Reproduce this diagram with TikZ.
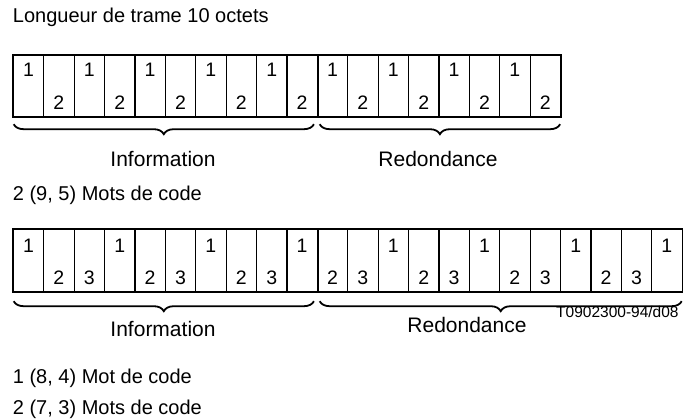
\documentclass[tikz,border=0pt]{standalone}
\usepackage{fontspec}
\setmainfont{Liberation Sans}
\usetikzlibrary{decorations.pathreplacing,calc}
\begin{document}
\begin{tikzpicture}[x=1pt,y=-1pt,
  cellbox/.style={draw, line width=1.2pt, minimum width=30.4pt, minimum height=#1, inner sep=0pt, anchor=north west},
  digit/.style={font=\fontsize{19.5}{20}\selectfont, inner sep=0pt, anchor=base},
  txt/.style={font=\fontsize{20}{24}\selectfont, inner sep=0pt, anchor=base west},
  part/.style={font=\fontsize{21}{24}\selectfont, inner sep=0pt, anchor=base},
  refcode/.style={font=\fontsize{15.5}{18}\selectfont, inner sep=0pt, anchor=base west},
  brc/.style={decorate, decoration={brace, mirror, amplitude=10pt}, line width=1.8pt},
  frame/.style={draw, line width=1.8pt},
  split/.style={line width=2.4pt}]
\useasboundingbox (0,0) rectangle (683,420);

\node[txt] (title) at (12.7,23) {Longueur de trame 10 octets};

% Row 1
\foreach \i in {0,...,17}{
  \node[cellbox=61pt] (a\i) at ({12.7+30.4*\i},55) {};
}
\foreach \i in {0,2,...,16}{
  \node[digit] (ad\i) at ($(a\i.north)+(0,22)$) {1};
}
\foreach \i in {1,3,...,17}{
  \node[digit] (ad\i) at ($(a\i.south)+(0,-8)$) {2};
}
\draw[frame] (a0.north west) rectangle (a17.south east);
\draw[split] (a9.north east) -- (a9.south east);

\draw[brc] ($(a0.south west)+(1,7)$) -- ($(a9.south east)+(-4,7)$) coordinate[midway] (b1);
\draw[brc] ($(a10.south west)+(3,7)$) -- ($(a17.south east)+(-1,7)$) coordinate[midway] (b2);
\node[part] (info1) at (163,166) {Information};
\node[part] (red1) at (438,166) {Redondance};

\node[txt] (mots1) at (12.7,200) {2 (9, 5) Mots de code};

% Row 2
\foreach \i in {0,...,21}{
  \node[cellbox=62pt] (c\i) at ({12.7+30.4*\i},229) {};
}
\foreach \i/\d in {0/1,1/2,2/3,3/1,4/2,5/3,6/1,7/2,8/3,9/1,10/2,11/3,12/1,13/2,14/3,15/1,16/2,17/3,18/1,19/2,20/3,21/1}{
  \ifnum\d=1
    \node[digit] (cd\i) at ($(c\i.north)+(0,23)$) {1};
  \else
    \node[digit] (cd\i) at ($(c\i.south)+(0,-8)$) {\d};
  \fi
}
\draw[frame] (c0.north west) rectangle (c21.south east);
\draw[split] (c9.north east) -- (c9.south east);

\draw[brc] ($(c0.south west)+(1,9)$) -- ($(c9.south east)+(-4,9)$) coordinate[midway] (b3);
\draw[brc] ($(c10.south west)+(3,9)$) -- ($(c21.south east)+(-1,9)$) coordinate[midway] (b4);
\node[part] (info2) at (163,336) {Information};
\node[part] (red2) at (467,332) {Redondance};
\node[refcode] (code) at (556,317) {T0902300-94/d08};

\node[txt] (foot1) at (12.7,383) {1 (8, 4) Mot de code};
\node[txt] (foot2) at (12.7,414) {2 (7, 3) Mots de code};
\end{tikzpicture}
\end{document}
